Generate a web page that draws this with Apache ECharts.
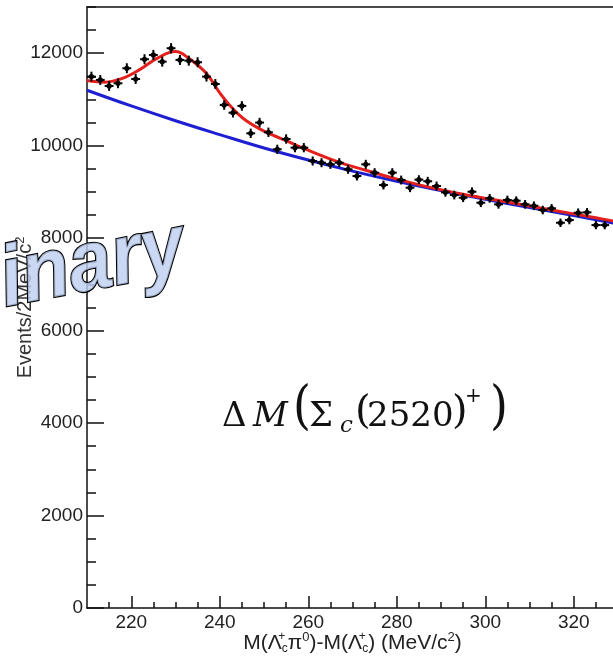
<!DOCTYPE html>
<html>
<head>
<meta charset="utf-8">
<script src="https://cdn.jsdelivr.net/npm/echarts@6/dist/echarts.min.js"></script>
<style>html,body{margin:0;padding:0;background:#fff}#c{width:613px;height:657px}</style>
</head>
<body>
<div id="c"></div>
<script>
// ---- data ----
const binCenters = [211,213,215,217,219,221,223,225,227,229,231,233,235,237,239,241,243,245,247,249,251,253,255,257,259,261,263,265,267,269,271,273,275,277,279,281,283,285,287,289,291,293,295,297,299,301,303,305,307,309,311,313,315,317,319,321,323,325,327];
const counts = [11494,11422,11292,11350,11675,11443,11870,11963,11818,12108,11855,11840,11805,11494,11335,10881,10714,10860,10268,10500,10290,9922,10145,9957,9957,9669,9632,9597,9632,9489,9344,9597,9416,9149,9416,9257,9091,9265,9230,9128,8991,8933,8874,9004,8766,8861,8731,8825,8810,8731,8701,8608,8645,8333,8392,8550,8558,8283,8283];
const fitX = [210,214,218,222,226,230,233,237,240,242,244,246,249,252,255,259,267,273,279,287,295,305,315,325,330];
const fitY = [11410,11375,11455,11650,11900,12035,11890,11560,11140,10900,10700,10540,10365,10230,10110,9940,9640,9470,9305,9110,8950,8780,8610,8440,8350];
const bkgX = [210,220,230,240,250,260,270,280,290,300,310,320,330];
const bkgY = [11200,10860,10540,10240,9950,9690,9450,9230,9030,8840,8660,8490,8310];
const xMajorTicks = [220,240,260,280,300,320];
const xMinorTicks = [215,225,230,235,245,250,255,265,270,275,285,290,295,305,310,315,325,330];
const yMajorTicks = [0,2000,4000,6000,8000,10000,12000];
const yMinorTicks = [500,1000,1500,2500,3000,3500,4500,5000,5500,6500,7000,7500,8500,9000,9500,10500,11000,11500,12500,13000];
const binHalfWidth = 1;

const pts = binCenters.map((x,i)=>[x,counts[i]]);
const fit = fitX.map((x,i)=>[x,fitY[i]]);
const bkg = bkgX.map((x,i)=>[x,bkgY[i]]);

const FONT = '"Liberation Sans", Arial, Helvetica, sans-serif';
const TXT = '#222';
const chart = echarts.init(document.getElementById('c'), null, {renderer:'canvas'});

const common = {min:210, max:330, type:'value', splitLine:{show:false}};
const commonY = {min:0, max:13000, type:'value', splitLine:{show:false}};
const plain = v => String(v);

chart.setOption({
  animation:false,
  backgroundColor:'#fff',
  grid:{left:87, right:-5, top:7, bottom:49, containLabel:false, outerBoundsMode:'none'},
  xAxis:[
    Object.assign({}, common, {
      position:'bottom',
      axisLine:{show:true, onZero:false, lineStyle:{color:'#111', width:1.5}},
      axisTick:{show:true, inside:true, length:12, customValues:xMajorTicks, lineStyle:{color:'#111', width:1.5}},
      axisLabel:{show:true, customValues:xMajorTicks, formatter:plain, margin:5, fontSize:19, fontFamily:FONT, color:TXT},
      name:'M(Λ{sp|+}{sb|c}π{sp0|0})-M(Λ{sp|+}{sb|c}) (MeV/c{sp0|2})',
      nameLocation:'middle', nameGap:23, nameMoveOverlap:false,
      nameTextStyle:{fontSize:21, fontFamily:FONT, color:TXT, lineHeight:24,
        rich:{
          sp:{fontSize:12, fontFamily:FONT, color:TXT, verticalAlign:'top', lineHeight:14, width:0.1},
          sp0:{fontSize:13, fontFamily:FONT, color:TXT, verticalAlign:'top', lineHeight:16},
          sb:{fontSize:12, fontFamily:FONT, color:TXT, verticalAlign:'bottom', lineHeight:12}
        }}
    }),
    Object.assign({}, common, {
      position:'bottom',
      axisLine:{show:false, onZero:false},
      axisTick:{show:true, inside:true, length:6, customValues:xMinorTicks, lineStyle:{color:'#111', width:1.5}},
      axisLabel:{show:false}
    }),
    Object.assign({}, common, {
      position:'top',
      axisLine:{show:true, onZero:false, lineStyle:{color:'#111', width:1.5}},
      axisTick:{show:false},
      axisLabel:{show:false}
    })
  ],
  yAxis:[
    Object.assign({}, commonY, {
      position:'left',
      axisLine:{show:true, onZero:false, lineStyle:{color:'#111', width:1.5}},
      axisTick:{show:true, inside:true, length:17, customValues:yMajorTicks, lineStyle:{color:'#111', width:1.5}},
      axisLabel:{show:true, customValues:yMajorTicks, formatter:plain, margin:4, fontSize:19, fontFamily:FONT, color:TXT},
      name:'Events/2MeV/c{sp|2}',
      nameLocation:'middle', nameGap:51, nameRotate:90, nameMoveOverlap:false,
      nameTextStyle:{fontSize:20, fontFamily:FONT, color:'#333', lineHeight:22,
        rich:{sp:{fontSize:13, fontFamily:FONT, color:'#333', verticalAlign:'top', lineHeight:16}}}
    }),
    Object.assign({}, commonY, {
      position:'left',
      axisLine:{show:false, onZero:false},
      axisTick:{show:true, inside:true, length:9, customValues:yMinorTicks, lineStyle:{color:'#111', width:1.5}},
      axisLabel:{show:false}
    })
  ],
  series:[
    {type:'line', data:bkg, xAxisIndex:0, yAxisIndex:0, smooth:0.4, showSymbol:false, symbol:'none',
      lineStyle:{color:'#1f1fd2', width:3}, z:3},
    {type:'line', data:fit, xAxisIndex:0, yAxisIndex:0, smooth:0.4, showSymbol:false, symbol:'none',
      lineStyle:{color:'#e3201c', width:3}, z:4},
    {type:'custom', data:pts, xAxisIndex:0, yAxisIndex:0, z:5,
      renderItem:function(params, api){
        const x = api.value(0), y = api.value(1), e = Math.sqrt(y);
        const c = api.coord([x,y]);
        const l = api.coord([x-binHalfWidth,y]), r = api.coord([x+binHalfWidth,y]);
        const t = api.coord([x,y+e]), b = api.coord([x,y-e]);
        return {type:'group', children:[
          {type:'line', shape:{x1:l[0],y1:l[1],x2:r[0],y2:r[1]}, style:{stroke:'#000', lineWidth:2}},
          {type:'line', shape:{x1:t[0],y1:t[1],x2:b[0],y2:b[1]}, style:{stroke:'#000', lineWidth:2}},
          {type:'circle', shape:{cx:c[0],cy:c[1],r:2.6}, style:{fill:'#000'}}
        ]};
      }}
  ],
  graphic:[
    {type:'text', z:50, x:222, y:417, style:{text:'Δ', font:'34px "DejaVu Serif", serif', fill:'#111', verticalAlign:'middle'}},
    {type:'text', z:50, x:253, y:417, style:{text:'M', font:'italic 34px "DejaVu Serif", serif', fill:'#111', verticalAlign:'middle'}},
    {type:'text', z:50, x:293, y:409, scaleY:1.15, style:{text:'(', font:'46px "DejaVu Serif", serif', fill:'#111', verticalAlign:'middle'}},
    {type:'text', z:50, x:309, y:417, style:{text:'Σ', font:'34px "DejaVu Serif", serif', fill:'#111', verticalAlign:'middle'}},
    {type:'text', z:50, x:340, y:426, style:{text:'c', font:'italic 23px "DejaVu Serif", serif', fill:'#111', verticalAlign:'middle'}},
    {type:'text', z:50, x:355, y:413, style:{text:'(', font:'40px "DejaVu Serif", serif', fill:'#111', verticalAlign:'middle'}},
    {type:'text', z:50, x:367, y:417, style:{text:'2520', font:'34px "DejaVu Serif", serif', fill:'#111', verticalAlign:'middle'}},
    {type:'text', z:50, x:452, y:413, style:{text:')', font:'40px "DejaVu Serif", serif', fill:'#111', verticalAlign:'middle'}},
    {type:'text', z:50, x:465, y:397, style:{text:'+', font:'20px "DejaVu Serif", serif', fill:'#111', verticalAlign:'middle'}},
    {type:'text', z:50, x:490, y:409, scaleY:1.15, style:{text:')', font:'46px "DejaVu Serif", serif', fill:'#111', verticalAlign:'middle'}},
    {type:'text', z:100, x:184, y:248, rotation:0.19, scaleY:1.1,
      style:{text:'Preliminary', font:'italic bold 78px "Liberation Sans", Arial, sans-serif',
        fill:'rgba(190,208,240,0.82)', stroke:'#000', lineWidth:2, align:'right', verticalAlign:'middle'}}
  ]
});
</script>
</body>
</html>
